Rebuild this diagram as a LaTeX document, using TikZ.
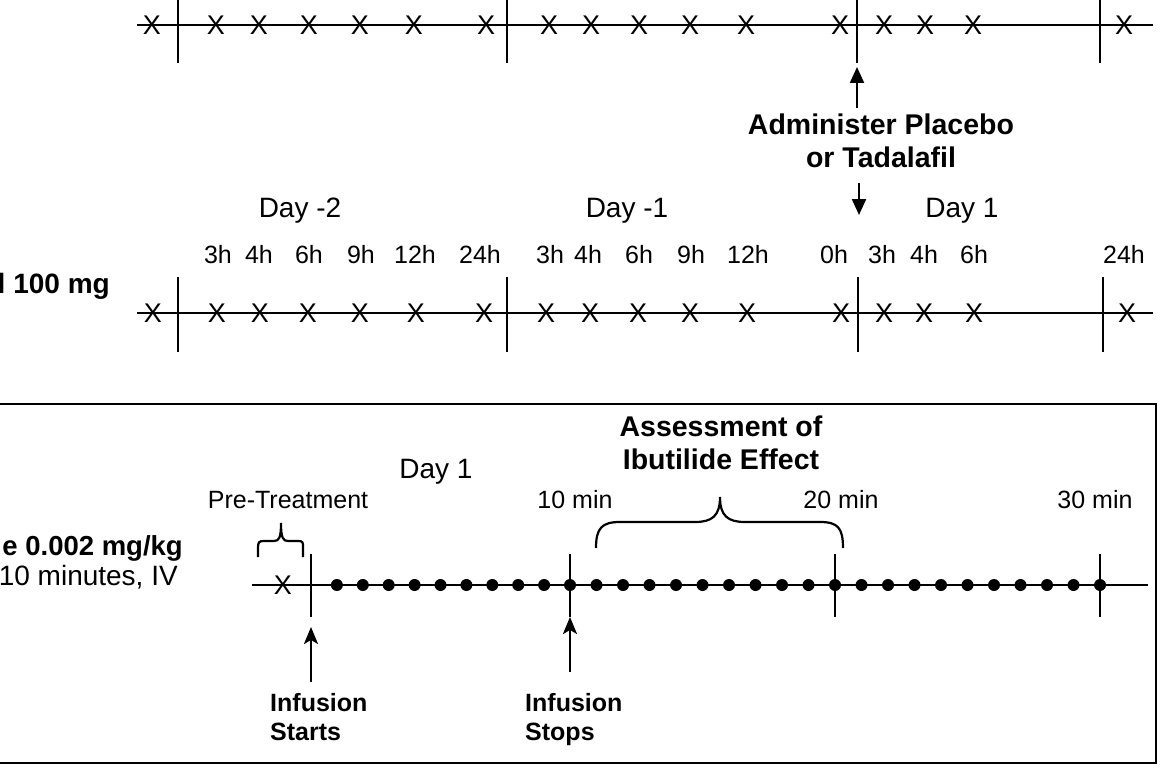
\documentclass[tikz,border=0pt]{standalone}
\usepackage{fontspec}
\setmainfont{Liberation Sans}
\usetikzlibrary{arrows.meta}
\begin{document}
\begin{tikzpicture}[x=1pt,y=-1pt,
  lbl/.style={font=\fontsize{28}{32}\selectfont, inner sep=0pt, anchor=base},
  hr/.style={font=\fontsize{25}{29}\selectfont, inner sep=0pt, anchor=base},
  bld/.style={font=\fontsize{28.5}{33}\selectfont\bfseries, inner sep=0pt, align=center},
  sbld/.style={font=\fontsize{25}{29}\selectfont\bfseries, inner sep=0pt, align=left, anchor=west},
  xm/.style={font=\fontsize{27}{31}\selectfont, inner sep=0pt},
  dotm/.style={circle, fill=black, inner sep=0pt, minimum size=12pt},
  ln/.style={line width=2.2pt},
  tk/.style={line width=2.2pt},
  arrT/.style={line width=2.2pt, -{Triangle[length=16pt,width=14pt]}},
  arrS/.style={line width=2.2pt, -{Stealth[length=17pt,width=14pt,inset=4pt]}},
]
\useasboundingbox (0,0) rectangle (1160,768);
\fill[white] (0,0) rectangle (1160,768);
\clip (0,0) rectangle (1160,768);

% ---------------- top timeline ----------------
\coordinate (tL) at (137,25);
\coordinate (tR) at (1153,25);
\draw[ln] (tL) -- (tR);
\foreach \x in {178,507,857,1100} \draw[tk] (\x,-5) -- (\x,63);
\foreach \x [count=\i] in {152,216,259,309,360,414,486,549,591,639,690,746,840,884,925,973,1124}
  \node[xm] (tx\i) at (\x,25) {X};

\coordinate (upA) at (857,108);
\coordinate (upB) at (857,67);
\draw[arrT] (upA) -- (upB);
\node[bld] (adm) at (881,141) {Administer Placebo\\or Tadalafil};
\coordinate (dnA) at (859,183);
\coordinate (dnB) at (859,215);
\draw[arrT] (dnA) -- (dnB);

% ---------------- middle timeline ----------------
\node[lbl] (dm2) at (300,217) {Day -2};
\node[lbl] (dm1) at (627,217) {Day -1};
\node[lbl] (dp1) at (962,217) {Day 1};
\foreach \x/\t [count=\i] in {218/3h,259/4h,309/6h,361/9h,415/12h,480/24h,550/3h,588/4h,639/6h,691/9h,748/12h,834/0h,882/3h,924/4h,974/6h,1124/24h}
  \node[hr] (h\i) at (\x,263.5) {\t};
\node[font=\fontsize{28}{32}\selectfont\bfseries, inner sep=0pt, anchor=base east] (dose1) at (110,293) {l 100 mg};

\coordinate (mL) at (137,313);
\coordinate (mR) at (1153,313);
\draw[ln] (mL) -- (mR);
\foreach \x in {178,507,858,1103} \draw[tk] (\x,277) -- (\x,352);
\foreach \x [count=\i] in {153,217,260,308,360,416,484,546,590,638,690,747,841,884,924,974,1127}
  \node[xm] (mx\i) at (\x,313) {X};

% ---------------- bottom box ----------------
\draw[line width=2.5pt] (-10,404) rectangle (1156,763);
\node[font=\fontsize{27.5}{32}\selectfont\bfseries, inner sep=0pt, anchor=base east] (dose2) at (183,555) {e 0.002 mg/kg};
\node[font=\fontsize{28}{32}\selectfont, inner sep=0pt, anchor=base east] (dose3) at (178,585) {10 minutes, IV};

\node[lbl] (bday) at (436,478) {Day 1};
\node[bld] (assess) at (721,443) {Assessment of\\Ibutilide Effect};
\node[hr] (pre) at (288,508.5) {Pre-Treatment};
\node[hr] (m10) at (575,508.5) {10 min};
\node[hr] (m20) at (841,508.5) {20 min};
\node[hr] (m30) at (1095,508.5) {30 min};

% braces
\draw[line width=2.2pt]
  (258,557) -- (258,548) .. controls (258,542) and (259,541) .. (264,541)
  -- (274,541) .. controls (279,541) and (281,538) .. (281,523)
  .. controls (281,538) and (283,541) .. (288,541)
  -- (298,541) .. controls (303,541) and (303,542) .. (303,548) -- (303,557);
\draw[line width=2.2pt]
  (596,548) .. controls (596,528) and (602,522) .. (620,522)
  -- (695,522) .. controls (712,522) and (720,516) .. (720,497)
  .. controls (720,516) and (728,522) .. (745,522)
  -- (820,522) .. controls (838,522) and (843,528) .. (843,548);

% bottom timeline
\coordinate (bL) at (252,585);
\coordinate (bR) at (1148,585);
\draw[ln] (bL) -- (bR);
\foreach \x in {311,570,835,1100} \draw[tk] (\x,554) -- (\x,617);
\node[xm] (bx) at (283,585) {X};
\foreach \t in {1,...,10} \node[dotm] (d\t) at ({311+\t*25.9},585) {};
\foreach \t in {1,...,10} \node[dotm] (e\t) at ({570+\t*26.5},585) {};
\foreach \t in {1,...,10} \node[dotm] (f\t) at ({835+\t*26.5},585) {};

\coordinate (s1A) at (311,682);
\coordinate (s1B) at (311,627);
\draw[arrS] (s1A) -- (s1B);
\coordinate (s2A) at (570,672);
\coordinate (s2B) at (570,617);
\draw[arrS] (s2A) -- (s2B);

\node[sbld] (start) at (270,717.5) {Infusion\\Starts};
\node[sbld] (stop) at (525,720) {Infusion\\Stops};
\end{tikzpicture}
\end{document}
